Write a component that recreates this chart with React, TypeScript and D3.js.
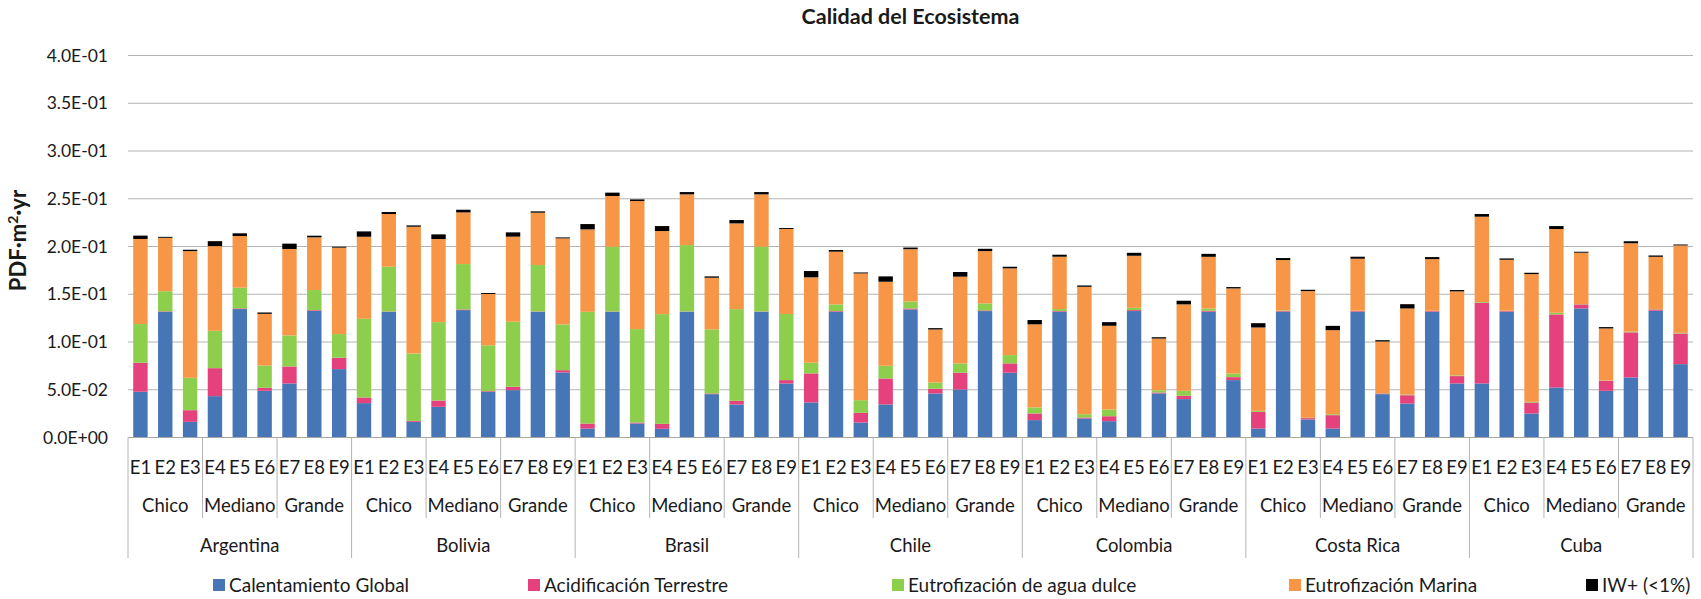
import React from "react";
import * as d3 from "d3";

const countries = ["Argentina", "Bolivia", "Brasil", "Chile", "Colombia", "Costa Rica", "Cuba"];
const sizes = ["Chico", "Mediano", "Grande"];
const scenarios = ["E1", "E2", "E3", "E4", "E5", "E6", "E7", "E8", "E9"];
const yTicks = [0, 0.05, 0.1, 0.15, 0.2, 0.25, 0.3, 0.35, 0.4];

const seriesNames = [
  "Calentamiento Global",
  "Acidificación Terrestre",
  "Eutrofización de agua dulce",
  "Eutrofización Marina",
  "IW+ (<1%)",
];
const seriesColors = ["#4676B6", "#E5417D", "#8DCF4C", "#F79646", "#000000"];

const calentamiento = [
  0.0479, 0.1317, 0.0164, 0.0433, 0.1345, 0.0489, 0.0566, 0.1327, 0.0716,
  0.036, 0.1317, 0.0164, 0.0321, 0.1334, 0.0479, 0.0496, 0.1317, 0.0681,
  0.0094, 0.1317, 0.0147, 0.0091, 0.1317, 0.0454, 0.0346, 0.1317, 0.0566,
  0.0367, 0.1317, 0.0157, 0.0346, 0.1341, 0.0461, 0.0503, 0.1324, 0.0678,
  0.0182, 0.1317, 0.0199, 0.0171, 0.1324, 0.0461, 0.0402, 0.1317, 0.0601,
  0.0094, 0.1317, 0.0189, 0.0094, 0.1317, 0.0454, 0.0356, 0.1317, 0.0566,
  0.0566, 0.1317, 0.0251, 0.0524, 0.1352, 0.0489, 0.0629, 0.1327, 0.0768,
];
const acidificacion = [
  0.0304, 0.0005, 0.0122, 0.0293, 0.0007, 0.0031, 0.0178, 0.0007, 0.0119,
  0.0059, 0.0003, 0.001, 0.0066, 0.0007, 0.0007, 0.0035, 0.0003, 0.0024,
  0.0052, 0.0003, 0.001, 0.0052, 0.0003, 0.0007, 0.0038, 0.0003, 0.0035,
  0.0304, 0.0007, 0.0101, 0.0272, 0.001, 0.0049, 0.0175, 0.0007, 0.0098,
  0.007, 0.0007, 0.001, 0.0052, 0.001, 0.001, 0.0035, 0.001, 0.0031,
  0.0175, 0.0007, 0.0014, 0.014, 0.0007, 0.0007, 0.0087, 0.0007, 0.0077,
  0.0845, 0.0007, 0.0115, 0.0765, 0.0042, 0.0105, 0.0472, 0.0014, 0.0321,
];
const eutroDulce = [
  0.0405, 0.021, 0.0339, 0.0391, 0.0217, 0.0234, 0.0325, 0.021, 0.0248,
  0.0824, 0.0468, 0.0706, 0.0821, 0.0475, 0.0479, 0.0681, 0.0486, 0.0479,
  0.117, 0.0678, 0.0978, 0.1149, 0.0695, 0.0671, 0.096, 0.0678, 0.0692,
  0.0112, 0.007, 0.0133, 0.0133, 0.0073, 0.0066, 0.0098, 0.0073, 0.0087,
  0.0063, 0.0021, 0.0035, 0.007, 0.0024, 0.0024, 0.0052, 0.0024, 0.0038,
  0.001, 0.0007, 0.0003, 0.001, 0.0003, 0.0003, 0.0007, 0.0003, 0.0007,
  0.0007, 0.0003, 0.0007, 0.0017, 0.0003, 0.0003, 0.0007, 0.0003, 0.0007,
];
const eutroMarina = [
  0.0891, 0.0559, 0.1327, 0.0887, 0.0541, 0.0541, 0.0905, 0.0552, 0.0905,
  0.0859, 0.0552, 0.1327, 0.087, 0.0541, 0.0538, 0.0891, 0.0548, 0.0901,
  0.0863, 0.0531, 0.1341, 0.087, 0.0531, 0.0541, 0.0898, 0.0548, 0.0891,
  0.0894, 0.0552, 0.1327, 0.088, 0.0548, 0.0555, 0.0908, 0.0548, 0.0908,
  0.087, 0.0548, 0.1334, 0.0877, 0.0545, 0.0541, 0.0905, 0.0541, 0.0891,
  0.0873, 0.0527, 0.1327, 0.088, 0.0545, 0.0541, 0.0901, 0.0541, 0.088,
  0.0894, 0.0534, 0.1338, 0.0877, 0.0538, 0.0545, 0.0926, 0.0548, 0.0915,
];
const iwPlus = [
  0.0035, 0.001, 0.0014, 0.0052, 0.0028, 0.0014, 0.0056, 0.0017, 0.001,
  0.0056, 0.0021, 0.0014, 0.0049, 0.0028, 0.001, 0.0045, 0.0014, 0.001,
  0.0056, 0.0035, 0.0017, 0.0052, 0.0024, 0.0014, 0.0035, 0.0024, 0.001,
  0.0066, 0.0017, 0.001, 0.0056, 0.0017, 0.0014, 0.0049, 0.0024, 0.0017,
  0.0045, 0.0021, 0.0014, 0.0038, 0.0031, 0.0014, 0.0038, 0.0031, 0.0014,
  0.0045, 0.0021, 0.0014, 0.0045, 0.0021, 0.0014, 0.0045, 0.0021, 0.0014,
  0.0028, 0.0014, 0.0014, 0.0031, 0.001, 0.0014, 0.0021, 0.0014, 0.001,
];

const W = 1701;
const H = 599;
const FONT = "Lato, 'Open Sans', sans-serif";
const plotLeft = 128;
const plotRight = 1693;
const plotTop = 55.5;
const plotBottom = 437.5;
const legendX = [213, 528, 892, 1289, 1586];

function fmtSci(v: number): string {
  if (v === 0) return "0.0E+00";
  const e = Math.floor(Math.log10(v) + 1e-9);
  const m = v / Math.pow(10, e);
  const sign = e < 0 ? "-" : "+";
  return `${m.toFixed(1)}E${sign}${String(Math.abs(e)).padStart(2, "0")}`;
}

export default function App() {
  const series = [calentamiento, acidificacion, eutroDulce, eutroMarina, iwPlus];
  const n = calentamiento.length;
  const idx = d3.range(n);
  const x = d3.scaleBand<number>().domain(idx).range([plotLeft, plotRight]).paddingInner(0.42).paddingOuter(0.21);
  const y = d3.scaleLinear().domain([0, 0.4]).range([plotBottom, plotTop]);
  const table = idx.map((i) => {
    const row: any = { i };
    series.forEach((s, k) => (row["s" + k] = s[i]));
    return row;
  });
  const stack = d3.stack<any>().keys(series.map((_, k) => "s" + k))(table);
  const step = x.step();
  const groupW = step * 3;
  const countryW = step * 9;
  const labelSize = 18.5;

  return (
    <svg width={W} height={H} style={{ position: "absolute", left: 0, top: 0, background: "#fff" }} fontFamily={FONT}>
      <rect x={0} y={0} width={W} height={H} fill="#fff" />
      <text x={(plotLeft + plotRight) / 2} y={24} textAnchor="middle" fontSize={21.5} fontWeight="bold" fill="#1a1a1a">
        Calidad del Ecosistema
      </text>
      {yTicks.map((t) => (
        <g key={t}>
          {t > 0 && <line x1={plotLeft} x2={plotRight} y1={y(t)} y2={y(t)} stroke="#b4b4b4" strokeWidth={1.2} />}
          <text x={108} y={y(t)} dy="0.35em" textAnchor="end" fontSize={17.5} fill="#1a1a1a">
            {fmtSci(t)}
          </text>
        </g>
      ))}
      <text
        transform={`translate(26,${(plotTop + plotBottom) / 2 - 6}) rotate(-90)`}
        textAnchor="middle"
        fontSize={22}
        fontWeight="bold"
        fill="#1a1a1a"
      >
        PDF·m<tspan dy={-8} fontSize={14}>2</tspan>
        <tspan dy={8}>·yr</tspan>
      </text>
      {stack.map((layer, k) => (
        <g key={k} fill={seriesColors[k]}>
          {layer.map((d: any, i: number) => (
            <rect
              key={i}
              x={x(i)}
              width={x.bandwidth()}
              y={y(d[1])}
              height={Math.max(0, y(d[0]) - y(d[1]))}
            />
          ))}
        </g>
      ))}
      <line x1={plotLeft} x2={plotRight} y1={plotBottom} y2={plotBottom} stroke="#a6a6a6" strokeWidth={1.2} />
      {idx.map((i) => (
        <text key={i} x={x(i)! + x.bandwidth() / 2} y={468} dy="0.35em" textAnchor="middle" fontSize={labelSize} fill="#1a1a1a">
          {scenarios[i % 9]}
        </text>
      ))}
      {d3.range(countries.length * 3).map((g) => (
        <g key={g}>
          <text x={plotLeft + g * groupW + groupW / 2} y={506} dy="0.35em" textAnchor="middle" fontSize={labelSize} fill="#1a1a1a">
            {sizes[g % 3]}
          </text>
          {g % 3 !== 0 && (
            <line x1={plotLeft + g * groupW} x2={plotLeft + g * groupW} y1={plotBottom} y2={518} stroke="#b4b4b4" strokeWidth={1} />
          )}
        </g>
      ))}
      {d3.range(countries.length + 1).map((c) => (
        <line key={c} x1={plotLeft + c * countryW} x2={plotLeft + c * countryW} y1={plotBottom} y2={558} stroke="#b4b4b4" strokeWidth={1} />
      ))}
      {countries.map((c, ci) => (
        <text key={c} x={plotLeft + ci * countryW + countryW / 2} y={546} dy="0.35em" textAnchor="middle" fontSize={labelSize} fill="#1a1a1a">
          {c}
        </text>
      ))}
      {seriesNames.map((s, k) => (
        <g key={s}>
          <rect x={legendX[k]} y={579} width={12} height={12} fill={seriesColors[k]} />
          <text x={legendX[k] + 16} y={585} dy="0.35em" fontSize={19} fill="#1a1a1a">
            {s}
          </text>
        </g>
      ))}
    </svg>
  );
}
